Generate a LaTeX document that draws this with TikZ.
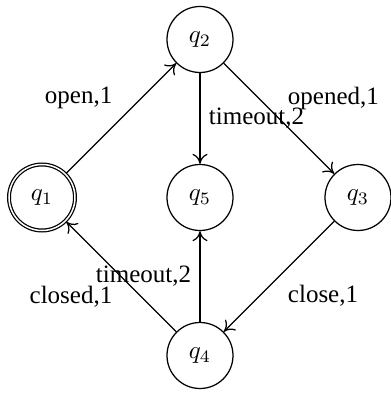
\documentclass[tikz,border=0pt]{standalone}
\usepackage{amsmath, amssymb}
\usepackage{fontspec}
\setmainfont{Liberation Serif}
\usepackage{tikz}
\usetikzlibrary{automata, positioning, arrows.meta}

\begin{document}
\begin{tikzpicture}[node distance=63.2pt, ->, >={To[length=4pt, width=6pt]},
    on grid, auto, line width=0.5pt,
    every state/.style={minimum size=26.4pt, inner sep=0pt}]
      \useasboundingbox (-80pt,79pt) rectangle (76pt,-79pt);
      \node[state] (q5) {$q_5$};
      \node[state, accepting, left of=q5] (q1) {$q_1$};
      \node[state, right of=q5] (q3) {$q_3$};
      \node[state, above of=q5] (q2) {$q_2$};
      \node[state, below of=q5] (q4) {$q_4$};
      \path (q1) edge node {open,1} (q2)
            (q2) edge node {opened,1} (q3)
            (q2) edge node {timeout,2} (q5)
            (q3) edge node {close,1} (q4)
            (q4) edge node {timeout,2} (q5)
            (q4) edge node {closed,1} (q1);
    \end{tikzpicture}
\end{document}
